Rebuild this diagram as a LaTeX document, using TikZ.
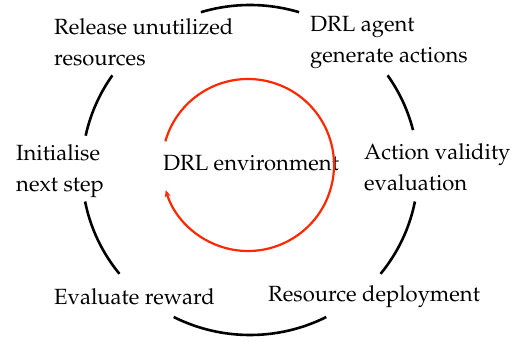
\documentclass[tikz,border=0pt]{standalone}
\usepackage[T1]{fontenc}
\usepackage{mathpazo}
\usetikzlibrary{arrows.meta}
\definecolor{loopred}{RGB}{255,40,0}
\tikzset{
  lbl/.style={anchor=west,align=left,inner sep=0pt,font=\fontsize{22}{31}\selectfont},
  outer/.style={line width=2.6pt,black},
  inner/.style={line width=2.2pt,loopred}
}
\begin{document}
\begin{tikzpicture}[x=1pt,y=1pt]
\useasboundingbox (0,0) rectangle (528,341);
% labels
\node[lbl] (rel) at (54,299) {Release unutilized\\resources};
\node[lbl] (agent) at (310,299) {DRL agent\\generate actions};
\node[lbl] (init) at (16,170) {Initialise\\next step};
\node[lbl] (valid) at (364,174) {Action validity\\evaluation};
\node[lbl] (rew) at (54,44) {Evaluate reward};
\node[lbl] (dep) at (268,44) {Resource deployment};
\node[lbl,anchor=center] (env) at (251,178) {DRL environment};
% outer cycle arcs
\coordinate (oc) at (250,171);
\foreach \a/\b in {73/107, 14/35, -39/-11, -117/-63, 191/219, 145/168}{
  \draw[outer] (oc) ++(\a:168 and 165) arc[start angle=\a, end angle=\b, x radius=168, y radius=165];
}
% inner loop
\coordinate (ic) at (248,176);
\draw[inner,-{Stealth[length=7pt,width=6pt]}] (ic) ++(164:86) arc[start angle=164, end angle=-163, radius=86];
\end{tikzpicture}
\end{document}
